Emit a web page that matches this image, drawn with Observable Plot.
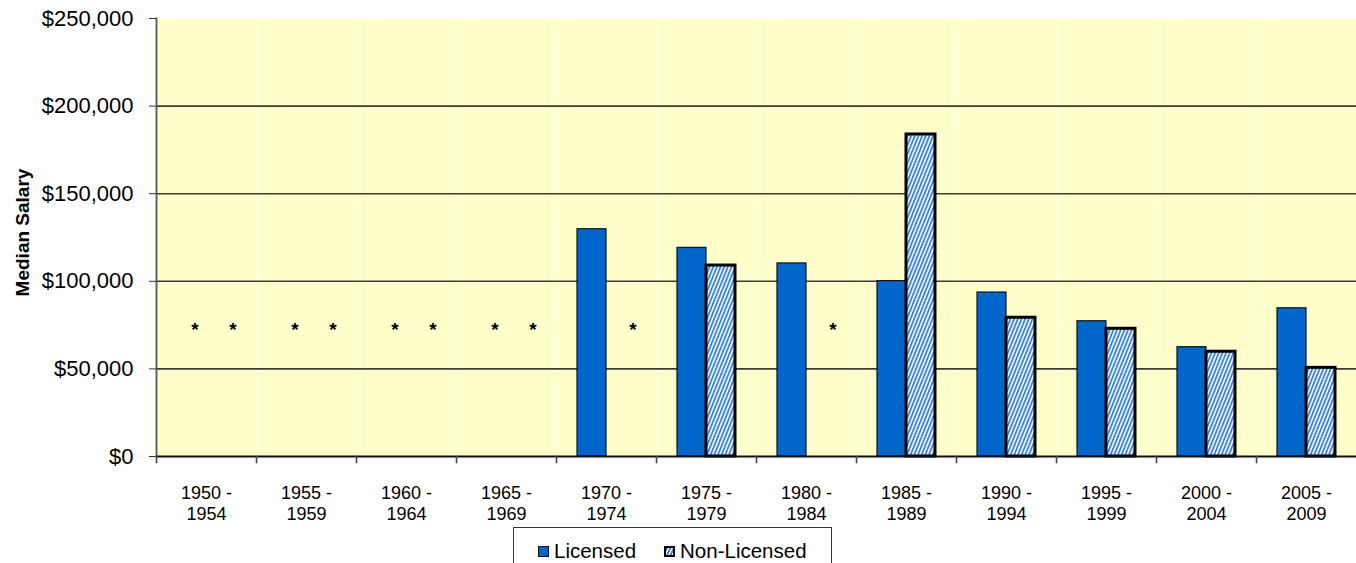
<!DOCTYPE html>
<html>
<head>
<meta charset="utf-8">
<script src="https://cdn.jsdelivr.net/npm/d3@7"></script>
<script src="https://cdn.jsdelivr.net/npm/@observablehq/plot@0.6"></script>
<style>
  html, body { margin: 0; padding: 0; background: #fff; overflow: hidden; }
  body { font-family: "Liberation Sans", Arial, sans-serif; position: relative; width: 1356px; height: 563px; }
  #chart svg { display: block; }
  #legend {
    position: absolute; left: 513px; top: 527px; width: 319px; height: 50px;
    box-sizing: border-box; border: 1px solid #333; background: #fff;
    display: flex; align-items: flex-start; padding: 13px 0 0 24px;
    font-size: 20.5px; color: #000; line-height: 1;
  }
  #legend .item { display: flex; align-items: center; }
  #legend .sw { width: 11px; height: 11px; box-sizing: border-box; margin-right: 5px; margin-top: 1px; }
  #legend .lic { background: #0066CC; border: 1px solid #111; }
  #legend .non { border: 2px solid #000;
    background: repeating-linear-gradient(115deg, #3d84dc 0 1.6px, #fff 1.6px 3.2px); }
</style>
</head>
<body>
<div id="chart"></div>
<div id="legend"></div>
<script>
// ---- data ----
const periods = ["1950 - 1954", "1955 - 1959", "1960 - 1964", "1965 - 1969", "1970 - 1974", "1975 - 1979",
                 "1980 - 1984", "1985 - 1989", "1990 - 1994", "1995 - 1999", "2000 - 2004", "2005 - 2009"];
const seriesNames = ["Licensed", "Non-Licensed"];
const licensed    = [null, null, null, null, 129700, 119100, 110200, 100100, 93600, 77200, 62400, 84600];
const nonLicensed = [null, null, null, null, null,   109000, null,   183800, 79200, 72900, 59800, 50600];
const yTicks = [0, 50000, 100000, 150000, 200000, 250000];
const yLabel = "Median Salary";
const missingMarker = "*";
const missingMarkerValue = 75000;

// ---- table ----
const rows = [];
periods.forEach((p, i) => {
  rows.push({period: p, series: seriesNames[0], value: licensed[i]});
  rows.push({period: p, series: seriesNames[1], value: nonLicensed[i]});
});
const present = rows.filter(d => d.value != null);
const missing = rows.filter(d => d.value == null);

const W = 1356, H = 525, mL = 155, mT = 18, baseY = 456;

const chart = Plot.plot({
  width: W, height: H,
  marginLeft: mL, marginRight: 0, marginTop: mT, marginBottom: H - baseY,
  style: {fontFamily: "'Liberation Sans', Arial, sans-serif", background: "transparent", color: "#000", overflow: "visible"},
  fx: {domain: periods, padding: 0, label: null},
  x: {domain: seriesNames, paddingInner: 0, paddingOuter: 0.72, axis: null},
  y: {domain: [0, 250000], axis: null},
  marks: [
    Plot.frame({fill: "#FFFFCC", stroke: null}),
    Plot.ruleY(yTicks.filter(d => d > 0 && d < 250000), {stroke: "#3c3c34", strokeWidth: 1.6}),
    Plot.barY(present.filter(d => d.series === seriesNames[0]),
      {fx: "period", x: "series", y: "value", fill: "#0066CC", stroke: "#111", strokeWidth: 1.2}),
    Plot.barY(present.filter(d => d.series === seriesNames[1]),
      {fx: "period", x: "series", y: "value", fill: "url(#hatch)", stroke: "#000", strokeWidth: 3}),
    Plot.text(missing.filter(d => d.series === seriesNames[0]),
      {fx: "period", x: "series", y: () => missingMarkerValue, text: () => missingMarker,
       fontSize: 19, fontWeight: "bold", fill: "#000", dx: 3, dy: 5}),
    Plot.text(missing.filter(d => d.series === seriesNames[1]),
      {fx: "period", x: "series", y: () => missingMarkerValue, text: () => missingMarker,
       fontSize: 19, fontWeight: "bold", fill: "#000", dx: 12, dy: 5}),
    Plot.ruleY([0], {stroke: "#111", strokeWidth: 2}),
    Plot.frame({anchor: "left", stroke: "#555", strokeWidth: 1.8, facetAnchor: "left"}),
    Plot.frame({anchor: "left", insetTop: baseY - mT, insetBottom: -6, stroke: "#444", strokeWidth: 1.6}),
    Plot.axisY({ticks: yTicks, tickSize: 7, tickPadding: 16, fontSize: 22, stroke: "#333",
      tickFormat: d => "$" + d3.format(",")(d), label: null}),
    Plot.text([yLabel], {frameAnchor: "left", textAnchor: "middle", rotate: -90, dx: -134, dy: -5,
      fontSize: 19, fontWeight: "bold", fill: "#000", facetAnchor: "left"}),
    Plot.axisFx({anchor: "bottom", tickSize: 0, tickPadding: 27, fontSize: 18, lineHeight: 1.2, label: null,
      tickFormat: d => d.replace(" - ", " -\n")})
  ]
});

d3.select(chart).insert("defs", ":first-child").html(
  `<pattern id="hatch" patternUnits="userSpaceOnUse" width="3.4" height="3.4" patternTransform="rotate(22)">
     <rect width="3.4" height="3.4" fill="#ffffff"/>
     <rect width="1.9" height="3.4" fill="#3d84dc"/>
   </pattern>`);
document.getElementById("chart").appendChild(chart);

// ---- legend ----
const legend = d3.select("#legend");
seriesNames.forEach((s, i) => {
  const it = legend.append("div").attr("class", "item").style("margin-right", i === 0 ? "28px" : "0");
  it.append("div").attr("class", "sw " + (i === 0 ? "lic" : "non"));
  it.append("span").text(s);
});
</script>
</body>
</html>
